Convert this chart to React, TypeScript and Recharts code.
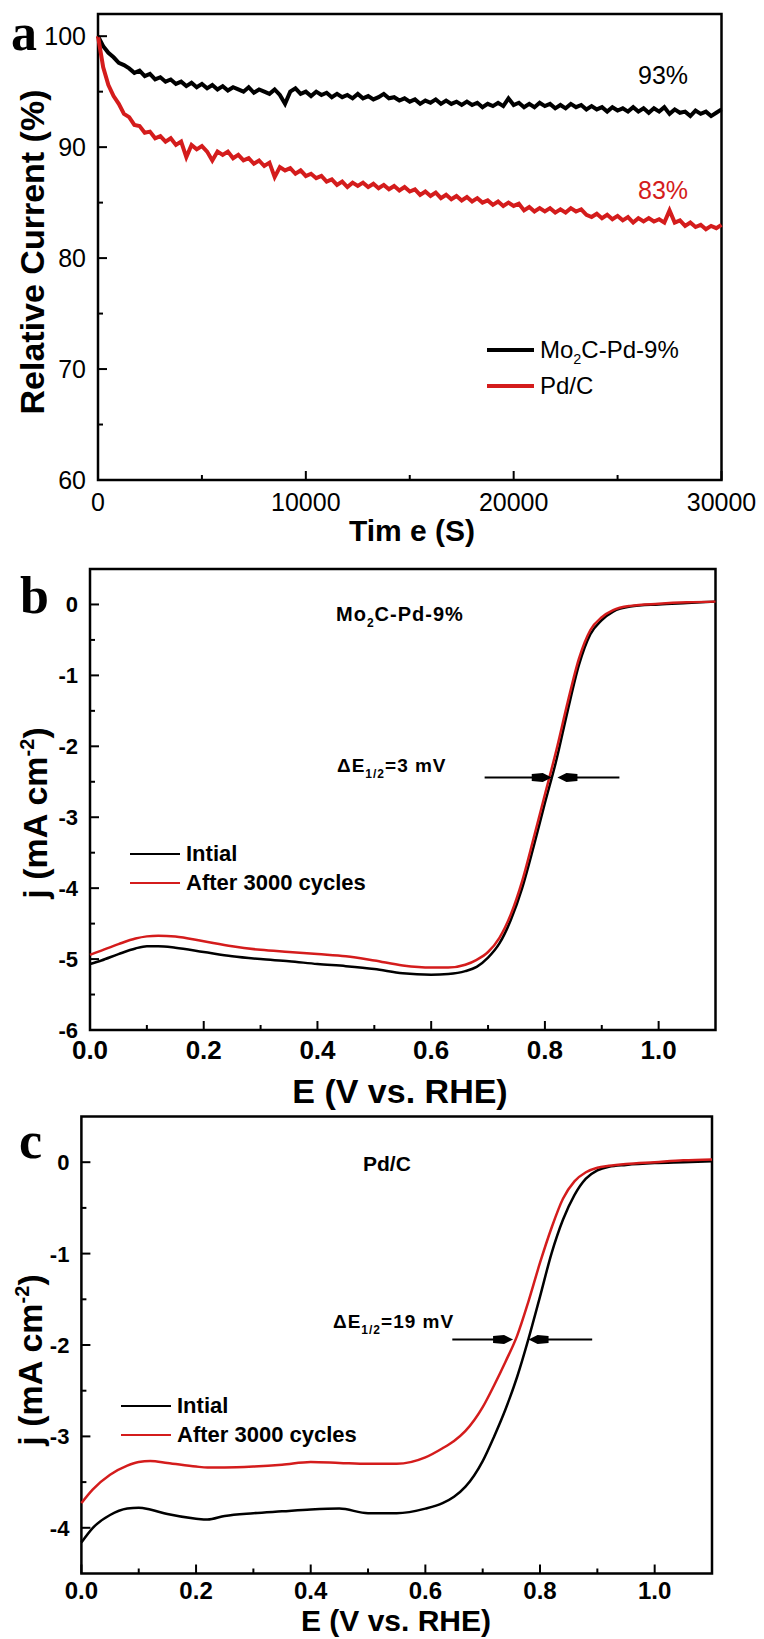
import React from 'react';
import { LineChart, Line, XAxis, YAxis, ReferenceArea, ReferenceLine, Legend } from 'recharts';

const SANS = '"Liberation Sans", Arial, Helvetica, sans-serif';
const SERIF = '"Liberation Serif", "Times New Roman", serif';
const RED = '#d41c1c';

// ---- panel a: chronoamperometry ----
const timeS = [
  0, 250, 500, 750, 1000, 1250, 1500, 1750, 2000, 2250, 2500, 2750, 3000, 3250, 3500, 3750,
  4000, 4250, 4500, 4750, 5000, 5250, 5500, 5750, 6000, 6250, 6500, 6750, 7000, 7250, 7500, 7750,
  8000, 8250, 8500, 8750, 9000, 9250, 9500, 9750, 10000, 10250, 10500, 10750, 11000, 11250, 11500,
  11750, 12000, 12250, 12500, 12750, 13000, 13250, 13500, 13750, 14000, 14250, 14500, 14750,
  15000, 15250, 15500, 15750, 16000, 16250, 16500, 16750, 17000, 17250, 17500, 17750, 18000,
  18250, 18500, 18750, 19000, 19250, 19500, 19750, 20000, 20250, 20500, 20750, 21000, 21250,
  21500, 21750, 22000, 22250, 22500, 22750, 23000, 23250, 23500, 23750, 24000, 24250, 24500,
  24750, 25000, 25250, 25500, 25750, 26000, 26250, 26500, 26750, 27000, 27250, 27500, 27750,
  28000, 28250, 28500, 28750, 29000, 29250, 29500, 29750, 30000,
];
const mo2cRetention = [
  100.0, 99.1, 98.5, 98.1, 97.6, 97.4, 97.1, 96.7, 96.9, 96.4, 96.6, 96.1, 96.3, 95.9, 96.1, 95.7,
  95.9, 95.5, 95.8, 95.4, 95.7, 95.3, 95.6, 95.2, 95.5, 95.1, 95.4, 95.2, 95.0, 95.4, 94.9, 95.2,
  95.0, 94.8, 95.2, 94.7, 93.9, 95.0, 95.3, 94.8, 95.0, 94.6, 95.0, 94.7, 94.9, 94.5, 94.8,
  94.5, 94.7, 94.4, 94.8, 94.4, 94.6, 94.3, 94.5, 94.8, 94.4, 94.5, 94.2, 94.4,
  94.1, 94.3, 93.9, 94.2, 94.0, 94.3, 93.9, 94.2, 93.9, 94.1, 93.8, 94.1, 93.8,
  94.0, 93.6, 93.9, 93.7, 94.0, 93.7, 94.4, 93.8, 94.0, 93.6, 93.9, 93.6, 94.0,
  93.7, 93.9, 93.5, 93.8, 93.5, 93.9, 93.6, 93.8, 93.4, 93.7, 93.4, 93.6, 93.2,
  93.6, 93.3, 93.5, 93.2, 93.6, 93.2, 93.5, 93.1, 93.5, 93.2, 93.6, 93.0, 93.4,
  93.1, 93.2, 92.8, 93.3, 93.0, 93.2, 92.8, 93.1, 93.4,
];
const pdcRetention = [
  100.0, 97.2, 95.6, 94.6, 93.9, 93.0, 92.7, 92.0, 91.9, 91.3, 91.4, 90.8, 91.0, 90.5, 90.8, 90.2,
  90.5, 89.1, 90.2, 89.8, 90.1, 89.6, 88.8, 89.6, 89.3, 89.6, 89.0, 89.3, 88.8, 89.0, 88.5, 88.8,
  88.3, 88.6, 87.3, 88.2, 87.9, 88.1, 87.6, 87.9, 87.4, 87.6, 87.2, 87.4, 86.9, 87.1, 86.6,
  86.9, 86.4, 86.8, 86.5, 86.8, 86.4, 86.7, 86.3, 86.6, 86.2, 86.5, 86.1, 86.4,
  86.0, 86.2, 85.7, 86.0, 85.6, 85.9, 85.4, 85.7, 85.3, 85.6, 85.2, 85.5, 85.1,
  85.4, 85.0, 85.2, 84.8, 85.1, 84.7, 85.0, 84.7, 84.9, 84.3, 84.6, 84.2, 84.5,
  84.2, 84.5, 84.1, 84.4, 84.1, 84.5, 84.2, 84.4, 83.9, 83.7, 84.0, 83.6, 83.9,
  83.5, 83.8, 83.4, 83.7, 83.2, 83.6, 83.3, 83.6, 83.3, 83.5, 83.2, 84.3, 83.2,
  83.4, 82.9, 83.2, 82.8, 83.0, 82.6, 82.9, 82.7, 83.0,
];
const timeTicks = [0, 5000, 10000, 15000, 20000, 25000, 30000];
const retentionTicks = [60, 65, 70, 75, 80, 85, 90, 95, 100];

// ---- panel b: Mo2C-Pd-9% polarization ----
const potentialB = [
  0, 0.02, 0.05, 0.08, 0.1, 0.12, 0.15, 0.2, 0.25, 0.3, 0.35, 0.4, 0.45, 0.5, 0.55, 0.6, 0.63,
  0.66, 0.68, 0.7, 0.72, 0.74, 0.76, 0.78, 0.8, 0.82, 0.84, 0.86, 0.88, 0.9, 0.92, 0.95, 1.0, 1.05, 1.1,
];
const mo2cInitial = [
  -5.07, -5.02, -4.93, -4.85, -4.82, -4.82, -4.84, -4.9, -4.96, -5.0, -5.03, -5.07, -5.1, -5.14,
  -5.2, -5.22, -5.21, -5.17, -5.11, -4.98, -4.78, -4.45, -4.0, -3.42, -2.8, -2.2, -1.5, -0.85,
  -0.42, -0.22, -0.1, -0.03, 0.0, 0.02, 0.04,
];
const mo2cAfter = [
  -4.94, -4.88, -4.79, -4.71, -4.68, -4.67, -4.68, -4.75, -4.82, -4.87, -4.9, -4.93, -4.96, -5.02,
  -5.09, -5.12, -5.12, -5.08, -5.01, -4.9, -4.7, -4.37, -3.9, -3.3, -2.68, -2.06, -1.38, -0.76,
  -0.36, -0.18, -0.08, -0.02, 0.01, 0.03, 0.04,
];
const arrowB = [0.694, 0.812, 0.822, 0.931];
const arrowLevelB = -2.44;

// ---- panel c: Pd/C polarization ----
const potentialC = [
  0, 0.02, 0.05, 0.08, 0.1, 0.12, 0.15, 0.2, 0.22, 0.25, 0.3, 0.35, 0.4, 0.45, 0.5, 0.55, 0.6,
  0.63, 0.65, 0.67, 0.7, 0.72, 0.74, 0.76, 0.78, 0.8, 0.82, 0.84, 0.86, 0.88, 0.9, 0.92, 0.95, 1.0, 1.05, 1.1,
];
const pdcInitial = [
  -4.16, -4.0, -3.86, -3.79, -3.78, -3.8, -3.85, -3.9, -3.91, -3.87, -3.84, -3.82, -3.8, -3.79,
  -3.84, -3.84, -3.79, -3.73, -3.66, -3.55, -3.27, -3.0, -2.7, -2.35, -1.93, -1.47, -1.0, -0.63,
  -0.36, -0.18, -0.09, -0.05, -0.03, -0.01, 0.0, 0.01,
];
const pdcAfter = [
  -3.73, -3.58, -3.42, -3.32, -3.28, -3.27, -3.29, -3.33, -3.34, -3.34, -3.33, -3.31, -3.28, -3.29,
  -3.3, -3.3, -3.23, -3.13, -3.05, -2.94, -2.68, -2.44, -2.18, -1.9, -1.52, -1.1, -0.72, -0.4,
  -0.21, -0.11, -0.06, -0.04, -0.02, 0.0, 0.02, 0.03,
];
const arrowC = [0.647, 0.753, 0.78, 0.891];
const arrowLevelC = -1.94;

const potentialTicks = [0, 0.1, 0.2, 0.3, 0.4, 0.5, 0.6, 0.7, 0.8, 0.9, 1.0];
const currentTicksB = [-6, -5.5, -5, -4.5, -4, -3.5, -3, -2.5, -2, -1.5, -1, -0.5, 0];
const currentTicksC = [-4, -3.5, -3, -2.5, -2, -1.5, -1, -0.5, 0];

const dataA = timeS.map((t, i) => ({ t, mo2c: mo2cRetention[i], pdc: pdcRetention[i] }));
const dataB = potentialB.map((e, i) => ({ e, initial: mo2cInitial[i], after: mo2cAfter[i] }));
const dataC = potentialC.map((e, i) => ({ e, initial: pdcInitial[i], after: pdcAfter[i] }));

type TickOpts = {
  isMajor: (v: number) => boolean;
  format: (v: number) => string;
  fontSize: number;
  fontWeight: number;
  gap: number;
};

// ticks point inward; the label sits outside the frame
const xTick = (o: TickOpts) => (p: any) => {
  const v = p.payload.value;
  const major = o.isMajor(v);
  return (
    <g>
      <line x1={p.x} x2={p.x} y1={p.y} y2={p.y - (major ? 9 : 5)} stroke="#000" strokeWidth={2} />
      {major && (
        <text x={p.x} y={p.y + o.gap} textAnchor="middle" fontFamily={SANS} fontSize={o.fontSize} fontWeight={o.fontWeight} fill="#000">
          {o.format(v)}
        </text>
      )}
    </g>
  );
};

const yTick = (o: TickOpts) => (p: any) => {
  const v = p.payload.value;
  const major = o.isMajor(v);
  return (
    <g>
      <line x1={p.x} x2={p.x + (major ? 9 : 5)} y1={p.y} y2={p.y} stroke="#000" strokeWidth={2} />
      {major && (
        <text x={p.x - o.gap} y={p.y} dy="0.36em" textAnchor="end" fontFamily={SANS} fontSize={o.fontSize} fontWeight={o.fontWeight} fill="#000">
          {o.format(v)}
        </text>
      )}
    </g>
  );
};

// filled block arrowhead pointing at (x2, y2)
const arrowShape = (p: any) => {
  const { x1, y1, x2, y2 } = p;
  const dir = Math.sign(x2 - x1) || 1;
  const pts = [[0, 0], [-9, -4.5], [-20, -3.5], [-20, 3.5], [-9, 4.5]]
    .map(([dx, dy]) => `${x2 + dir * dx},${y2 + dy}`)
    .join(' ');
  return (
    <g>
      <line x1={x1} y1={y1} x2={x2 - dir * 12} y2={y2} stroke="#000" strokeWidth={2} />
      <polygon points={pts} fill="#000" />
    </g>
  );
};

const seriesName = (name: string) =>
  name === 'Mo2C-Pd-9%' ? (
    <>
      Mo<span style={{ fontSize: '0.6em', position: 'relative', top: '0.4em' }}>2</span>C-Pd-9%
    </>
  ) : (
    name
  );

type LegendOpts = { rowHeight: number; lineWidth: number; thickness: number; gap: number; fontSize: number; fontWeight: number };

const legendContent = (o: LegendOpts) => (props: any) => (
  <div style={{ fontFamily: SANS }}>
    {(props.payload ?? []).map((entry: any) => (
      <div key={entry.value} style={{ display: 'flex', alignItems: 'center', height: o.rowHeight }}>
        <span style={{ display: 'inline-block', width: o.lineWidth, height: o.thickness, background: entry.color }} />
        <span style={{ marginLeft: o.gap, fontSize: o.fontSize, fontWeight: o.fontWeight, color: '#000', lineHeight: 1, whiteSpace: 'nowrap' }}>
          {seriesName(entry.value)}
        </span>
      </div>
    ))}
  </div>
);

const seriesOrder = ['mo2c', 'pdc', 'initial', 'after'];
const bySeriesOrder = (item: any) => seriesOrder.indexOf(String(item.dataKey));

const oneDecimalMajor = (v: number) => Math.round(v * 10) % 2 === 0;
const integerMajor = (v: number) => Math.abs(v - Math.round(v)) < 1e-6;

const PanelA = () => (
  <LineChart width={764} height={545} data={dataA} margin={{ top: 14, right: 42.5, left: 38, bottom: 25 }}>
    <XAxis
      dataKey="t" type="number" domain={[0, 30000]} ticks={timeTicks} interval={0}
      height={40} tickSize={0} tickMargin={0} axisLine={false} tickLine={false}
      tick={xTick({ isMajor: (v) => v % 10000 === 0, format: (v) => String(v), fontSize: 25, fontWeight: 400, gap: 31 })}
    />
    <YAxis
      type="number" domain={[60, 102]} ticks={retentionTicks} interval={0}
      width={60} tickSize={0} tickMargin={0} axisLine={false} tickLine={false}
      tick={yTick({ isMajor: (v) => v % 10 === 0, format: (v) => String(v), fontSize: 25, fontWeight: 400, gap: 12 })}
    />
    <ReferenceArea x1={0} x2={30000} y1={60} y2={102} fill="none" stroke="#000" strokeWidth={2.5} />
    <Legend
      layout="vertical" align="center" verticalAlign="middle" itemSorter={bySeriesOrder}
      wrapperStyle={{ left: 487, top: 332, width: 260 }}
      content={legendContent({ rowHeight: 36, lineWidth: 47, thickness: 4, gap: 6, fontSize: 24, fontWeight: 400 })}
    />
    <Line type="linear" dataKey="mo2c" name="Mo2C-Pd-9%" stroke="#000" strokeWidth={4} dot={false} isAnimationActive={false} />
    <Line type="linear" dataKey="pdc" name="Pd/C" stroke={RED} strokeWidth={4} dot={false} isAnimationActive={false} />
  </LineChart>
);

const PolarizationPanel = ({ data, top, height, left, right, bottom, yDomain, yTicks, arrow, arrowLevel, legendTop, legendLeft, xLabelGap, xLabelSize }: any) => (
  <LineChart width={764} height={height} data={data} margin={{ top, right, left: left - 60, bottom: bottom - 40 }}>
    <XAxis
      dataKey="e" type="number" domain={[0, 1.1]} ticks={potentialTicks} interval={0}
      height={40} tickSize={0} tickMargin={0} axisLine={false} tickLine={false}
      tick={xTick({ isMajor: oneDecimalMajor, format: (v) => v.toFixed(1), fontSize: xLabelSize, fontWeight: 700, gap: xLabelGap })}
    />
    <YAxis
      type="number" domain={yDomain} ticks={yTicks} interval={0}
      width={60} tickSize={0} tickMargin={0} axisLine={false} tickLine={false}
      tick={yTick({ isMajor: integerMajor, format: (v) => String(v), fontSize: 22, fontWeight: 700, gap: 12 })}
    />
    <ReferenceArea x1={0} x2={1.1} y1={yDomain[0]} y2={yDomain[1]} fill="none" stroke="#000" strokeWidth={2.5} />
    <Legend
      layout="vertical" align="center" verticalAlign="middle" itemSorter={bySeriesOrder}
      wrapperStyle={{ left: legendLeft, top: legendTop, width: 260 }}
      content={legendContent({ rowHeight: 29, lineWidth: 50, thickness: 2.5, gap: 6, fontSize: 22, fontWeight: 700 })}
    />
    <Line type="monotone" dataKey="initial" name="Intial" stroke="#000" strokeWidth={2.5} dot={false} isAnimationActive={false} />
    <Line type="monotone" dataKey="after" name="After 3000 cycles" stroke={RED} strokeWidth={2.5} dot={false} isAnimationActive={false} />
    <ReferenceLine segment={[{ x: arrow[0], y: arrowLevel }, { x: arrow[1], y: arrowLevel }]} shape={arrowShape} />
    <ReferenceLine segment={[{ x: arrow[3], y: arrowLevel }, { x: arrow[2], y: arrowLevel }]} shape={arrowShape} />
  </LineChart>
);

const Overlay = () => (
  <svg width={764} height={1639} style={{ position: 'absolute', left: 0, top: 0, pointerEvents: 'none' }} fontFamily={SANS} fill="#000">
    {/* panel a */}
    <text x={11} y={50} fontFamily={SERIF} fontWeight={700} fontSize={52}>a</text>
    <text x={44} y={252} transform="rotate(-90 44 252)" textAnchor="middle" fontWeight={700} fontSize={34}>Relative Current (%)</text>
    <text x={412} y={541} textAnchor="middle" fontWeight={700} fontSize={30}>Tim e (S)</text>
    <text x={638} y={84} fontSize={25}>93%</text>
    <text x={638} y={199} fontSize={25} fill={RED}>83%</text>

    {/* panel b */}
    <text x={20} y={613} fontFamily={SERIF} fontWeight={700} fontSize={52}>b</text>
    <text x={47} y={813} transform="rotate(-90 47 813)" textAnchor="middle" fontWeight={700} fontSize={34}>
      j (mA cm<tspan dy={-13} fontSize={20}>-2</tspan><tspan dy={13}>)</tspan>
    </text>
    <text x={400} y={1103} textAnchor="middle" fontWeight={700} fontSize={34}>E (V vs. RHE)</text>
    <text x={336} y={621} fontWeight={700} fontSize={20} letterSpacing={1}>
      Mo<tspan dy={6} fontSize={12}>2</tspan><tspan dy={-6}>C-Pd-9%</tspan>
    </text>
    <text x={337} y={772} fontWeight={700} fontSize={19} letterSpacing={1}>
      ΔE<tspan dy={6} fontSize={12}>1/2</tspan><tspan dy={-6}>=3 mV</tspan>
    </text>

    {/* panel c */}
    <text x={19} y={1158} fontFamily={SERIF} fontWeight={700} fontSize={52}>c</text>
    <text x={42} y={1360} transform="rotate(-90 42 1360)" textAnchor="middle" fontWeight={700} fontSize={34}>
      j (mA cm<tspan dy={-13} fontSize={20}>-2</tspan><tspan dy={13}>)</tspan>
    </text>
    <text x={396} y={1631} textAnchor="middle" fontWeight={700} fontSize={30}>E (V vs. RHE)</text>
    <text x={363} y={1171} fontWeight={700} fontSize={21}>Pd/C</text>
    <text x={333} y={1328} fontWeight={700} fontSize={19} letterSpacing={1}>
      ΔE<tspan dy={6} fontSize={12}>1/2</tspan><tspan dy={-6}>=19 mV</tspan>
    </text>
  </svg>
);

export default function App() {
  return (
    <div style={{ position: 'absolute', left: 0, top: 0, width: 764, height: 1639, background: '#fff', overflow: 'hidden' }}>
      <div style={{ position: 'absolute', left: 0, top: 0 }}>
        <PanelA />
      </div>
      <div style={{ position: 'absolute', left: 0, top: 545 }}>
        <PolarizationPanel
          data={dataB} top={24} height={550} left={90} right={48.5} bottom={65}
          yDomain={[-6, 0.5]} yTicks={currentTicksB} arrow={arrowB} arrowLevel={arrowLevelB}
          legendLeft={130} legendTop={294.5} xLabelGap={29} xLabelSize={26}
        />
      </div>
      <div style={{ position: 'absolute', left: 0, top: 1095 }}>
        <PolarizationPanel
          data={dataC} top={21.5} height={544} left={81.4} right={52} bottom={65.5}
          yDomain={[-4.5, 0.5]} yTicks={currentTicksC} arrow={arrowC} arrowLevel={arrowLevelC}
          legendLeft={121} legendTop={296.5} xLabelGap={25.5} xLabelSize={24}
        />
      </div>
      <Overlay />
    </div>
  );
}
